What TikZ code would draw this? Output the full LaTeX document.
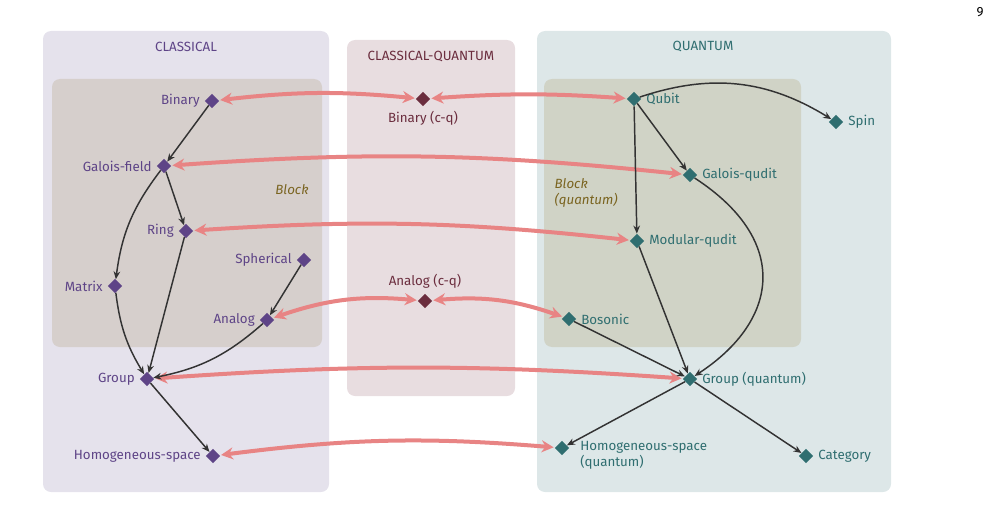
\documentclass[tikz,border=0pt]{standalone}
\usepackage{fontspec}
\setmainfont{Fira Sans}
\usetikzlibrary{shapes.geometric,arrows.meta}
\definecolor{cpur}{HTML}{5E4487}
\definecolor{ccq}{HTML}{6B2D3E}
\definecolor{cqt}{HTML}{2F6E70}
\definecolor{pink}{HTML}{E88484}
\definecolor{olive}{HTML}{7A6420}
\begin{document}
\begin{tikzpicture}[x=0.75pt,y=-0.75pt,
  font=\fontsize{10}{12}\selectfont,
  dm/.style={diamond,inner sep=0pt,minimum size=11pt},
  cl/.style={dm,fill=cpur,text=cpur},
  cq/.style={dm,fill=ccq},
  qu/.style={dm,fill=cqt},
  pk/.style={pink,line width=3pt,{Stealth[length=9pt,width=9pt]}-{Stealth[length=9pt,width=9pt]},shorten <=1pt,shorten >=1pt},
  bk/.style={black!80,line width=1.1pt,-{Stealth[length=6pt,width=5pt]}},
  pnl/.style={rounded corners=6pt}]
\useasboundingbox (0,0) rectangle (992,510);
\fill[pnl,fill={rgb,255:red,229;green,226;blue,236}] (43,31) rectangle (329,492);
\fill[pnl,fill={rgb,255:red,214;green,207;blue,204}] (52,79) rectangle (322,347);
\fill[pnl,fill={rgb,255:red,232;green,221;blue,224}] (347,40) rectangle (515,396);
\fill[pnl,fill={rgb,255:red,221;green,231;blue,232}] (537,31) rectangle (891,492);
\fill[pnl,fill={rgb,255:red,208;green,211;blue,198}] (544,79) rectangle (801,347);
\node[text=cpur] (tc) at (186,47) {CLASSICAL};
\node[text=ccq] (tcq) at (431,57) {CLASSICAL-QUANTUM};
\node[text=cqt] (tq) at (703,47) {QUANTUM};
\node[text=olive,font=\fontsize{10}{12}\selectfont\itshape] (bl) at (292,190) {Block};
\node[text=olive,font=\fontsize{10}{12}\selectfont\itshape,align=left,anchor=west] (bq) at (550,193) {Block\\(quantum)};
\node (pg) at (980,12) {9};
% classical
\node[cl,label={[text=cpur]left:Binary}] (bin) at (212,101) {};
\node[cl,label={[text=cpur]left:Galois-field}] (gf) at (164,166) {};
\node[cl,label={[text=cpur]left:Ring}] (ring) at (186,231) {};
\node[cl,label={[text=cpur]left:Spherical}] (sph) at (304,260) {};
\node[cl,label={[text=cpur]left:Matrix}] (mat) at (115,286) {};
\node[cl,label={[text=cpur]left:Analog}] (ana) at (267,320) {};
\node[cl,label={[text=cpur]left:Group}] (grp) at (147,379) {};
\node[cl,label={[text=cpur]left:Homogeneous-space}] (hom) at (213,456) {};
% cq
\node[cq,label={[text=ccq]below:Binary (c-q)}] (bcq) at (423,99) {};
\node[cq,label={[text=ccq]above:Analog (c-q)}] (acq) at (425,301) {};
% quantum
\node[qu,label={[text=cqt]right:Qubit}] (qb) at (634,99) {};
\node[qu,label={[text=cqt]right:Spin}] (spin) at (836,122) {};
\node[qu,label={[text=cqt]right:Galois-qudit}] (gq) at (690,175) {};
\node[qu,label={[text=cqt]right:Modular-qudit}] (mq) at (637,241) {};
\node[qu,label={[text=cqt]right:Bosonic}] (bos) at (569,319) {};
\node[qu,label={[text=cqt]right:Group (quantum)}] (gpq) at (690,379) {};
\node[qu] (hq) at (562,448) {};
\node[text=cqt,anchor=north west,align=left,inner sep=0pt] (hql) at (580,441) {Homogeneous-space\\(quantum)};
\node[qu,label={[text=cqt]right:Category}] (cat) at (806,456) {};
% pink
\draw[pk] (bin) to[bend left=6] (bcq);
\draw[pk] (bcq) to[bend left=4] (qb);
\draw[pk] (gf) to[bend left=5] (gq);
\draw[pk] (ring) to[bend left=5] (mq);
\draw[pk] (ana) to[bend left=12] (acq);
\draw[pk] (acq) to[bend left=12] (bos);
\draw[pk] (grp) to[bend left=4] (gpq);
\draw[pk] (hom) to[bend left=6] (hq);
% black
\draw[bk] (bin) -- (gf);
\draw[bk] (gf) -- (ring);
\draw[bk] (gf) to[bend right=15] (mat);
\draw[bk] (mat) to[bend right=12] (grp);
\draw[bk] (ring) -- (grp);
\draw[bk] (sph) -- (ana);
\draw[bk] (ana) to[bend left=15] (grp);
\draw[bk] (grp) -- (hom);
\draw[bk] (qb) to[bend left=25] (spin);
\draw[bk] (qb) -- (gq);
\draw[bk] (qb) -- (mq);
\draw[bk] (gq) .. controls (790,240) and (780,320) .. (gpq);
\draw[bk] (mq) -- (gpq);
\draw[bk] (bos) -- (gpq);
\draw[bk] (gpq) -- (hq);
\draw[bk] (gpq) -- (cat);
\end{tikzpicture}
\end{document}
